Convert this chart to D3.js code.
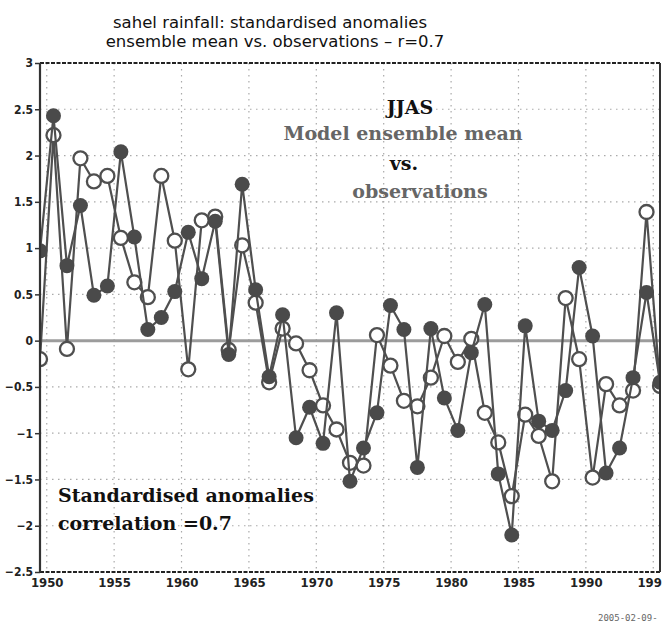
<!DOCTYPE html>
<html><head><meta charset="utf-8">
<script src="https://cdn.jsdelivr.net/npm/d3@7"></script>
<style>body{margin:0;background:#fff}svg{display:block}</style>
</head><body>
<script>
const years = [1949,1950,1951,1952,1953,1954,1955,1956,1957,1958,1959,1960,1961,1962,1963,1964,1965,1966,1967,1968,1969,1970,1971,1972,1973,1974,1975,1976,1977,1978,1979,1980,1981,1982,1983,1984,1985,1986,1987,1988,1989,1990,1991,1992,1993,1994,1995];
const model = [0.97,2.43,0.81,1.46,0.49,0.59,2.04,1.12,0.12,0.25,0.53,1.17,0.67,1.29,-0.15,1.69,0.55,-0.39,0.28,-1.05,-0.72,-1.11,0.30,-1.52,-1.16,-0.78,0.38,0.12,-1.37,0.13,-0.62,-0.97,-0.13,0.39,-1.44,-2.10,0.16,-0.87,-0.97,-0.54,0.79,0.05,-1.43,-1.16,-0.40,0.52,-0.45];
const obs = [-0.20,2.22,-0.09,1.97,1.72,1.78,1.11,0.63,0.47,1.78,1.08,-0.31,1.30,1.34,-0.10,1.03,0.41,-0.45,0.13,-0.03,-0.32,-0.70,-0.96,-1.32,-1.35,0.06,-0.27,-0.65,-0.71,-0.40,0.05,-0.23,0.02,-0.78,-1.10,-1.68,-0.80,-1.03,-1.52,0.46,-0.20,-1.48,-0.47,-0.70,-0.54,1.39,-0.49];
const yTicks = [-2.5,-2,-1.5,-1,-0.5,0,0.5,1,1.5,2,2.5,3];
const xTicks = [1950,1955,1960,1965,1970,1975,1980,1985,1990,1995];
const titleLines = ["sahel rainfall: standardised anomalies","ensemble mean vs. observations  \u2013  r=0.7"];

const W=662,H=624, L=40,R=660,T=63,B=572;
const svg=d3.select("body").append("svg").attr("width",W).attr("height",H);
const x=d3.scaleLinear().domain([1949.5,1995.5]).range([L,R]);
const y=d3.scaleLinear().domain([-2.5,3]).range([B,T]);
const axisFont="'Liberation Sans Narrow','DejaVu Sans Condensed','Liberation Sans',sans-serif";
const serif="'DejaVu Serif','Liberation Serif',serif";

// title
svg.selectAll("text.title").data(titleLines).join("text")
  .attr("x",(d,i)=>i?275:270).attr("y",(d,i)=>28+i*19)
  .attr("text-anchor","middle").attr("font-family","'DejaVu Sans',sans-serif")
  .attr("font-size",16.5).attr("fill","#111").text(d=>d);

// grid
const g=svg.append("g");
g.selectAll("line.hg").data(yTicks.filter(d=>d!==0&&d!==3&&d!==-2.5)).join("line")
  .attr("x1",L).attr("x2",R).attr("y1",d=>y(d)).attr("y2",d=>y(d))
  .attr("stroke","#aaa").attr("stroke-width",1.2).attr("stroke-dasharray","1.5,4.5");
g.selectAll("line.vg").data(xTicks).join("line")
  .attr("y1",T).attr("y2",B).attr("x1",d=>x(d)).attr("x2",d=>x(d))
  .attr("stroke","#aaa").attr("stroke-width",1.2).attr("stroke-dasharray","1.5,4.5");
// zero line
g.append("line").attr("x1",L).attr("x2",R).attr("y1",y(0)).attr("y2",y(0))
  .attr("stroke","#9c9c9c").attr("stroke-width",3);

// annotations
const ann=[["JJAS",410,114,"#111"],["Model ensemble mean",403,140,"#666"],["vs.",404,170,"#111"],["observations",420,198,"#666"]];
svg.selectAll("text.ann").data(ann).join("text")
  .attr("x",d=>d[1]).attr("y",d=>d[2]).attr("text-anchor","middle")
  .attr("font-family",serif).attr("font-weight","bold").attr("font-size",19)
  .attr("fill",d=>d[3]).text(d=>d[0]);
const ann2=[["Standardised anomalies",58,502],["correlation =0.7",58,530]];
svg.selectAll("text.ann2").data(ann2).join("text")
  .attr("x",d=>d[1]).attr("y",d=>d[2])
  .attr("font-family",serif).attr("font-weight","bold").attr("font-size",19)
  .attr("fill","#111").text(d=>d[0]);

// data
svg.append("clipPath").attr("id","clip").append("rect").attr("x",L).attr("y",T-10).attr("width",R-L).attr("height",B-T+20);
const plot=svg.append("g").attr("clip-path","url(#clip)");
const line=d3.line().x((d,i)=>x(years[i]+0.5)).y(d=>y(d));
const col="#4f4f4f";
plot.append("path").datum(obs).attr("d",line).attr("fill","none").attr("stroke",col).attr("stroke-width",2.2);
plot.selectAll("circle.o").data(obs).join("circle")
  .attr("cx",(d,i)=>x(years[i]+0.5)).attr("cy",d=>y(d)).attr("r",7)
  .attr("fill","#fff").attr("stroke",col).attr("stroke-width",2.3);
plot.append("path").datum(model).attr("d",line).attr("fill","none").attr("stroke",col).attr("stroke-width",2.2);
plot.selectAll("circle.m").data(model).join("circle")
  .attr("cx",(d,i)=>x(years[i]+0.5)).attr("cy",d=>y(d)).attr("r",7.5)
  .attr("fill","#4a4a4a");

// frame
svg.append("line").attr("x1",L).attr("x2",R).attr("y1",T).attr("y2",T).attr("stroke","#222").attr("stroke-width",1.8).attr("stroke-dasharray","4,1.5");
svg.append("line").attr("x1",L).attr("x2",R).attr("y1",B).attr("y2",B).attr("stroke","#222").attr("stroke-width",1.8).attr("stroke-dasharray","4,1.5");
svg.append("line").attr("x1",L).attr("x2",L).attr("y1",T).attr("y2",B).attr("stroke","#333").attr("stroke-width",2.2);
svg.append("line").attr("x1",R).attr("x2",R).attr("y1",T).attr("y2",B).attr("stroke","#333").attr("stroke-width",2);

// axes
const yAxis=d3.axisLeft(y).tickValues(yTicks).tickSize(5).tickPadding(2).tickFormat(d3.format("~g"));
const ya=svg.append("g").attr("transform",`translate(${L},0)`).call(yAxis);
ya.select(".domain").remove();
ya.selectAll("line").attr("stroke","#333").attr("stroke-width",1.5);
ya.selectAll("text").attr("font-family",axisFont).attr("font-weight","bold").attr("font-size",12).attr("fill","#222");
const xAxis=d3.axisBottom(x).tickValues(xTicks).tickSize(0).tickPadding(6).tickFormat(d3.format("d"));
const xa=svg.append("g").attr("transform",`translate(0,${B})`).call(xAxis);
xa.select(".domain").remove();
xa.selectAll("text").attr("font-family",axisFont).attr("font-weight","bold").attr("font-size",13).attr("fill","#222");

svg.append("text").attr("x",598).attr("y",621).attr("font-family","'DejaVu Sans Mono',monospace").attr("font-size",9).attr("fill","#666").text("2005-02-09-");
</script>
</body></html>
